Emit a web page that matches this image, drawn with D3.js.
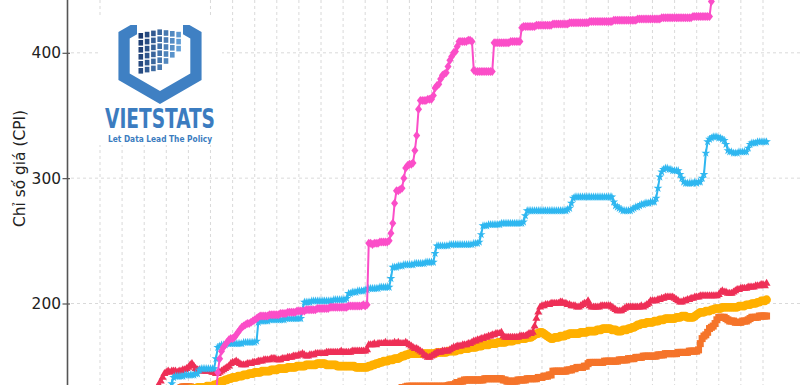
<!DOCTYPE html>
<html>
<head>
<meta charset="utf-8">
<script src="https://cdn.jsdelivr.net/npm/d3@7"></script>
<style>
  body { margin: 0; background: #fff; }
  svg { display: block; font-family: "DejaVu Sans", sans-serif; }
</style>
</head>
<body>
<script>
// monthly index values, every series starts in Jan 1997
const startYear = 1997;
const yTicks = [200, 300, 400];
const yLabel = "Chỉ số giá (CPI)";

const pinkValues = [
  105,105,106,106,106,107,107,107,108,108,108,109,
  109,110,110,111,111,112,112,113,113,114,114,115,
  115,115,116,116,117,117,118,118,118,119,119,119,
  120,121,122,125,145,156,162,165,167,169,171,172,
  172,173,175,177,179,181,182,183,184,184,185,186,
  187,188,189,190,190,190,190,190,191,191,191,191,
  191,191,192,192,192,192,193,193,193,193,193,194,
  194,194,194,194,195,195,195,195,195,195,196,196,
  196,196,196,196,196,197,197,197,197,197,197,197,
  197,197,197,198,198,198,198,198,198,198,198,199,
  198,199,248,248,247,248,248,248,249,249,249,249,
  249,250,256,264,280,290,290,291,292,300,308,310,
  311,311,312,322,334,355,362,362,362,362,363,363,
  363,366,372,374,375,379,382,383,384,389,394,397,
  400,401,405,409,409,409,409,409,410,410,409,386,
  385,385,385,385,385,385,385,385,385,385,408,408,
  408,408,408,408,408,408,408,409,409,409,409,409,
  409,420,421,421,421,421,421,421,421,422,422,422,
  422,422,422,422,422,422,423,423,423,423,423,423,
  423,423,423,424,424,424,424,424,424,424,424,424,
  424,424,425,425,425,425,425,425,425,425,425,425,
  425,425,425,426,426,426,426,426,426,426,426,426,
  426,426,426,426,427,427,427,427,427,427,427,427,
  427,427,427,427,427,428,428,428,428,428,428,428,
  428,428,428,428,428,428,428,428,428,428,429,429,
  429,429,429,429,429,429,429,429,441
];

const blueValues = [
  125,125,126,126,126,127,127,127,128,128,128,129,
  129,130,131,136,141,142,142,142,142,142,143,143,
  143,143,143,143,144,144,147,148,148,148,148,148,
  148,148,148,156,165,166,167,167,167,168,168,168,
  168,168,168,168,168,168,169,169,169,169,169,169,
  169,170,185,186,186,186,186,186,187,187,187,187,
  187,187,187,187,187,188,188,188,188,188,188,188,
  188,188,195,201,201,201,201,202,202,202,202,202,
  202,202,202,202,202,202,202,203,203,203,203,203,
  203,203,204,208,208,209,209,209,210,210,210,210,
  211,211,212,212,212,212,212,212,213,213,213,213,
  213,213,220,229,229,229,230,230,230,231,231,231,
  231,231,231,232,232,232,232,232,232,233,233,233,
  233,233,240,246,246,246,246,246,246,246,247,247,
  247,247,247,247,247,247,247,247,247,247,247,248,
  248,248,249,255,262,262,262,263,263,263,263,263,
  263,263,264,264,264,264,264,264,264,264,264,264,
  264,264,265,270,274,274,274,274,274,274,274,274,
  274,274,274,274,274,274,274,274,274,274,274,274,
  274,274,275,276,280,284,285,285,285,285,285,285,
  285,285,285,285,285,285,285,285,285,285,285,285,
  285,285,285,281,278,277,276,275,274,274,274,274,
  274,275,276,277,277,278,279,279,280,280,280,281,
  281,281,284,292,301,305,307,308,308,307,307,306,
  306,306,306,303,300,297,296,296,296,296,296,297,
  296,297,297,300,303,320,329,331,332,333,333,333,
  332,332,331,330,327,322,321,321,320,320,320,321,
  321,321,321,321,324,327,328,328,328,329,329,329,
  329,329,329
];

const redValues = [
  128,128,129,129,130,130,131,133,135,138,141,144,
  145,146,145,146,146,146,145,146,146,147,147,148,
  149,151,152,150,148,147,147,146,146,146,146,146,
  146,145,145,144,144,145,146,147,148,149,150,152,
  153,153,154,153,152,151,151,151,152,152,152,153,
  153,153,154,154,154,155,155,155,155,156,156,156,
  155,155,155,156,156,156,157,157,157,158,158,158,
  159,159,160,159,158,158,159,159,159,160,160,160,
  160,160,160,161,161,161,161,161,161,161,161,162,
  161,161,161,161,161,162,162,162,162,162,162,162,
  162,163,167,167,167,168,167,168,168,168,168,169,
  168,168,168,168,169,168,169,168,168,168,169,168,
  167,166,165,164,164,163,162,161,159,158,157,157,
  158,159,160,161,161,161,162,162,162,162,163,164,
  165,165,166,166,166,167,167,167,168,168,169,170,
  170,171,171,172,172,173,173,174,174,175,175,176,
  176,176,177,174,173,173,173,173,173,173,173,173,
  174,174,174,174,175,176,176,177,182,188,193,197,
  198,198,199,199,199,200,200,200,200,200,201,201,
  200,200,199,199,198,198,198,197,197,198,199,200,
  200,202,198,197,197,197,197,197,198,198,198,198,
  198,198,197,196,195,194,194,194,195,196,197,197,
  197,197,197,197,197,197,198,197,198,199,200,202,
  202,202,202,203,203,204,204,205,205,205,205,205,
  204,203,202,201,201,202,202,203,203,204,204,205,
  205,205,206,206,206,206,206,206,206,206,206,206,
  207,209,210,209,209,208,208,208,209,210,211,211,
  212,212,212,212,213,213,213,213,214,214,214,215,
  215,214,216
];

const yellowValues = [
  124,124,125,125,125,126,126,126,127,127,127,128,
  128,128,129,129,129,130,130,130,131,131,131,131,
  131,132,132,132,132,133,133,133,133,133,134,134,
  134,134,135,135,136,137,138,138,139,139,140,140,
  141,141,141,142,142,142,143,143,143,144,144,144,
  145,145,145,145,146,146,146,146,146,147,147,147,
  147,148,148,148,148,148,149,149,149,149,149,150,
  150,150,150,150,151,151,151,151,151,151,152,152,
  152,152,152,151,151,151,151,151,151,150,150,150,
  150,150,150,150,150,150,150,149,149,149,149,149,
  149,149,150,150,151,151,152,152,153,153,154,154,
  154,155,155,155,156,156,156,157,158,158,159,159,
  160,160,160,160,160,160,160,160,160,160,160,160,
  160,160,160,161,161,161,161,161,161,162,162,162,
  162,162,163,163,163,164,164,164,164,165,165,165,
  165,166,166,166,167,167,167,167,168,168,168,168,
  169,169,169,169,169,170,170,170,170,171,171,171,
  172,172,172,172,173,173,173,174,175,176,176,177,
  177,176,175,174,173,172,172,173,173,173,174,174,
  174,175,175,176,176,176,176,176,176,177,177,177,
  177,178,178,178,178,178,179,179,179,180,180,180,
  180,180,179,179,179,178,178,178,179,179,179,180,
  180,181,181,182,183,183,184,184,184,185,185,185,
  185,186,186,186,187,187,187,188,188,188,188,188,
  188,189,189,189,190,190,190,189,189,189,189,190,
  191,192,193,193,193,194,194,194,195,195,196,196,
  196,196,197,197,197,197,197,197,197,197,197,198,
  198,198,198,199,199,199,200,200,200,201,201,202,
  202,202,203
];

const orangeValues = [
  126,126,127,127,127,128,128,128,129,129,129,130,
  130,130,131,131,131,132,132,132,133,133.5,133.5,133.5,
  133.5,133.5,133,132,131,130,130,129,129,129,128,128,
  128,128,128,127,127,127,127,127,127,127,127,127,
  127,127,127,127,127,127,127,127,127,127,127,127,
  127,127,127,127,127,128,128,128,128,128,128,128,
  128,128,128,128,128,128,128,128,128,128,128,128,
  128,128,128,128,128,128,129,129,129,129,129,129,
  129,129,129,129,129,129,129,129,129,129,129,129,
  129,129,129,129,129,129,129,129,130,130,130,130,
  130,130,130,130,130,130,130,130,131,131,131,131,
  131,131,131,131,132,132,132,132,133,133,133.5,134,
  134,134,134,134,134,134,134,134,134,134,134,134,
  134,134,134,134,134,134,134,134,134,134.5,135,135,
  135,136,137,137,138,138,139,139,139,139,139,139,
  139,139,139,139,139,140,140,140,140,140,140,140,
  140,140,140,139,139,138,138,138,138,138,138,139,
  139,139,139,139,140,140,140,140,140,140,141,141,
  141,142,142,142,143,143,146,146,146,146,146,146,
  146,146,147,147,147,148,148,149,149,149,149,150,
  150,152,153,153,153,153,153,153,153,153,154,154,
  154,154,154,154,154,154,155,155,155,155,155,156,
  156,156,156,157,157,157,157,158,158,158,158,158,
  158,158,158,159,159,159,159,160,160,160,160,160,
  160,160,161,161,161,161,161,161,162,162,162,162,
  162,163,168,172,174,175,177,180,181,182,184,187,
  189,189,189,189,188,187,186,186,186,185,185,185,
  185,186,186,186,187,188,189,189,189,189,190,190,
  190,190,190
];

// diamond a little wider than d3's thin one
const wideDiamond = {
  draw(context, size) {
    const h = Math.sqrt(size) * 0.75, w = h * 0.78;
    context.moveTo(0, -h);
    context.lineTo(w, 0);
    context.lineTo(0, h);
    context.lineTo(-w, 0);
    context.closePath();
  }
};

const series = [
  {values: orangeValues, color: "#f5742a", symbol: d3.symbolSquare, size: 49},
  {values: yellowValues, color: "#ffb000", symbol: d3.symbolCircle, size: 60},
  {values: redValues, color: "#ee2f57", symbol: d3.symbolTriangle, size: 28},
  {values: blueValues, color: "#2fb7f0", symbol: d3.symbolStar, size: 24},
  {values: pinkValues, color: "#fb4ec8", symbol: wideDiamond, size: 36}
].map(s => ({...s, points: s.values.map((v, i) => ({date: new Date(startYear, i, 1), value: v}))}));

const width = 810, height = 385;
const axisX = 67.5;

const x = d3.scaleTime()
    .domain([new Date(1995, 0, 1), new Date(2025, 0, 1)])
    .range([100, 763]);

const y = d3.scaleLinear()
    .domain([200, 400])
    .range([303.5, 52.8]);

const svg = d3.select("body").append("svg")
    .attr("width", width)
    .attr("height", height);

svg.append("defs").append("clipPath")
    .attr("id", "plot")
  .append("rect")
    .attr("x", axisX)
    .attr("y", 0)
    .attr("width", width - axisX)
    .attr("height", height);

// grid
const grid = svg.append("g");
grid.selectAll(".vgrid")
  .data(d3.timeYear.range(new Date(1995, 0, 1), new Date(2025, 0, 2)))
  .join("line")
    .attr("x1", d => x(d)).attr("x2", d => x(d))
    .attr("y1", 0).attr("y2", height)
    .attr("stroke", "#cfcfcf")
    .attr("stroke-width", 0.8)
    .attr("stroke-dasharray", "3,3");
grid.selectAll(".hgrid")
  .data(yTicks)
  .join("line")
    .attr("x1", 71).attr("x2", 802)
    .attr("y1", d => y(d)).attr("y2", d => y(d))
    .attr("stroke", "#cfcfcf")
    .attr("stroke-width", 0.8)
    .attr("stroke-dasharray", "3,3");

// logo
const logo = svg.append("g");
logo.append("rect")
    .attr("x", 98).attr("y", 17).attr("width", 124).attr("height", 128)
    .attr("fill", "#fff");
const hex = (cx, cy, r) => d3.range(6).map(k => {
  const a = Math.PI / 180 * (60 * k - 90);
  return [cx + r * Math.cos(a), cy + r * Math.sin(a)];
});
const ring = "M" + hex(160, 56, 48).join("L") + "Z M" + hex(160, 56, 35).join("L") + "Z";
logo.append("path")
    .attr("d", ring)
    .attr("fill", "#3f80c3")
    .attr("fill-rule", "evenodd");
logo.append("rect")
    .attr("x", 112).attr("y", 0).attr("width", 96).attr("height", 25)
    .attr("fill", "#fff");
logo.append("rect")
    .attr("x", 137).attr("y", 20).attr("width", 46).attr("height", 22)
    .attr("fill", "#fff");
const blockColor = d3.interpolateRgb("#1c3a70", "#6db0e8");
const cols = [6, 6, 6, 6, 5, 4, 3];
cols.forEach((n, c) => {
  for (let r = 0; r < n; r++) {
    logo.append("rect")
        .attr("x", 138.5 + c * 6.3)
        .attr("y", 33 - c * 1.2 + r * 7 + (c > 3 ? (c - 3) * 2 : 0))
        .attr("width", 4.6)
        .attr("height", 5.6)
        .attr("fill", blockColor(c / 6 * 0.8 + r * 0.03));
  }
});
logo.append("text")
    .attr("x", 160).attr("y", 128)
    .attr("text-anchor", "middle")
    .attr("font-family", "'DejaVu Sans Condensed', 'DejaVu Sans', sans-serif")
    .attr("font-weight", "bold")
    .attr("font-size", 26)
    .attr("textLength", 110)
    .attr("lengthAdjust", "spacingAndGlyphs")
    .attr("fill", "#3b7cc0")
    .text("VIETSTATS");
logo.append("text")
    .attr("x", 160).attr("y", 141.5)
    .attr("text-anchor", "middle")
    .attr("font-family", "'DejaVu Sans Condensed', 'DejaVu Sans', sans-serif")
    .attr("font-weight", "bold")
    .attr("font-size", 9.5)
    .attr("textLength", 104)
    .attr("lengthAdjust", "spacingAndGlyphs")
    .attr("fill", "#3b7cc0")
    .text("Let Data Lead The Policy");

// series
const line = d3.line()
    .x(d => x(d.date))
    .y(d => y(d.value));

const plot = svg.append("g").attr("clip-path", "url(#plot)");
series.forEach(s => {
  const g = plot.append("g");
  g.append("path")
      .attr("d", line(s.points))
      .attr("fill", "none")
      .attr("stroke", s.color)
      .attr("stroke-width", 2)
      .attr("stroke-linejoin", "round");
  g.selectAll("path.mark")
    .data(s.points)
    .join("path")
      .attr("class", "mark")
      .attr("transform", d => `translate(${x(d.date)},${y(d.value)})`)
      .attr("d", d3.symbol().type(s.symbol).size(s.size))
      .attr("fill", s.color);
});

// y axis
const yAxis = svg.append("g")
    .attr("transform", `translate(${axisX},0)`)
    .call(d3.axisLeft(y).tickValues(yTicks).tickSize(5).tickPadding(1.5))
    .call(g => g.select(".domain").remove());
yAxis.selectAll(".tick line")
    .attr("x1", 2.5)
    .attr("stroke", "#555")
    .attr("stroke-width", 1.2);
yAxis.selectAll(".tick text")
    .attr("font-family", "'DejaVu Sans', sans-serif")
    .attr("font-size", 15.4)
    .attr("fill", "#222");
svg.append("line")
    .attr("x1", axisX).attr("x2", axisX)
    .attr("y1", 0).attr("y2", height)
    .attr("stroke", "#555")
    .attr("stroke-width", 1.6);

svg.append("text")
    .attr("transform", `translate(25,168.5) rotate(-90)`)
    .attr("text-anchor", "middle")
    .attr("font-size", 15.4)
    .attr("fill", "#222")
    .text(yLabel);
</script>
</body>
</html>
